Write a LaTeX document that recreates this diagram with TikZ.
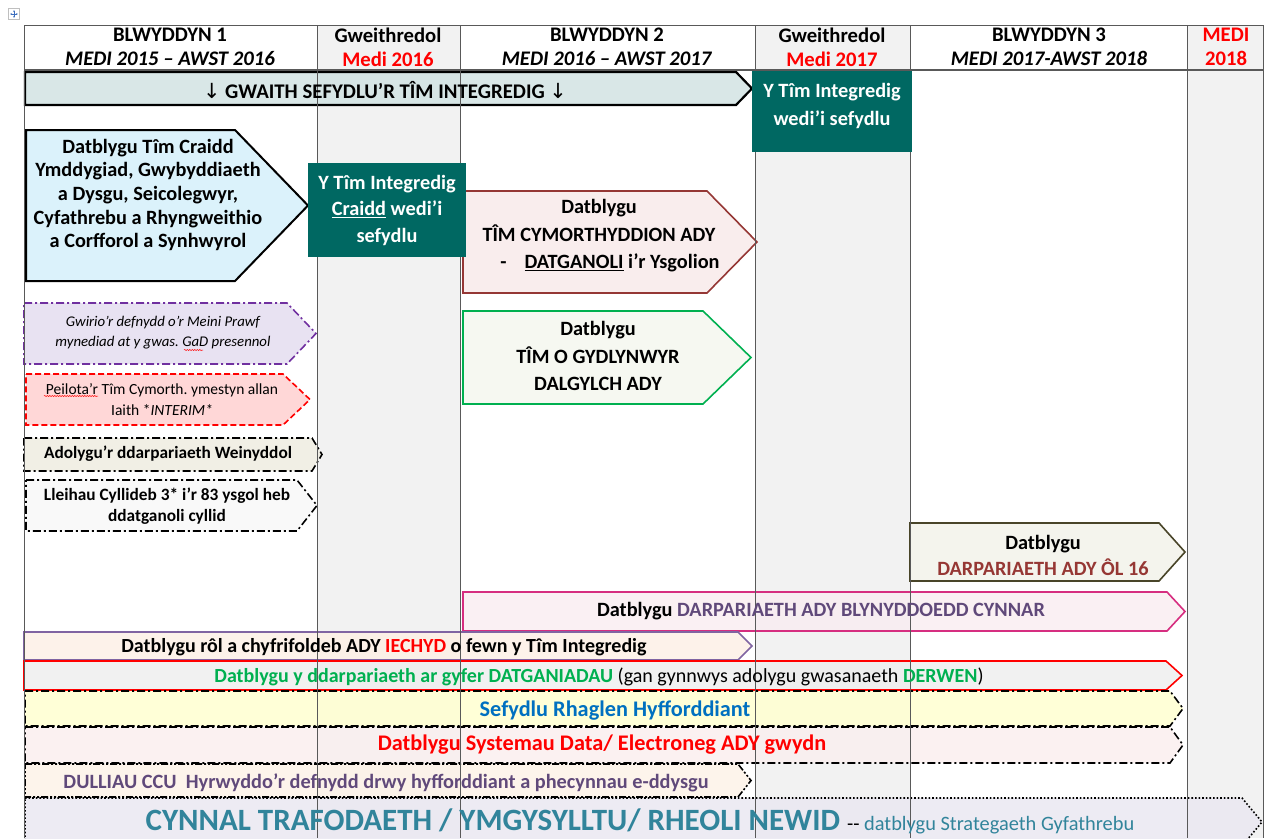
\documentclass[tikz,border=0pt]{standalone}
\usepackage{fontspec}
\setmainfont{Carlito}
\newfontfamily\arrowfont{DejaVu Sans}
\usetikzlibrary{arrows.meta,decorations.pathmorphing}

\definecolor{colgrey}{RGB}{242,242,242}
\definecolor{tealfill}{RGB}{0,104,98}
\definecolor{gwaithfill}{RGB}{210,227,227}
\definecolor{craiddfill}{RGB}{213,240,250}
\definecolor{cymborder}{RGB}{149,55,53}
\definecolor{cymfill}{RGB}{248,234,234}
\definecolor{gydborder}{RGB}{0,176,80}
\definecolor{gydfill}{RGB}{244,247,238}
\definecolor{gwiborder}{RGB}{112,48,160}
\definecolor{gwifill}{RGB}{228,221,240}
\definecolor{peilfill}{RGB}{255,208,208}
\definecolor{adofill}{RGB}{238,236,225}
\definecolor{lleifill}{RGB}{248,248,248}
\definecolor{olborder}{RGB}{73,69,41}
\definecolor{olfill}{RGB}{242,242,234}
\definecolor{oltext}{RGB}{150,55,52}
\definecolor{cynborder}{RGB}{214,46,128}
\definecolor{cynfill}{RGB}{249,237,241}
\definecolor{purptext}{RGB}{96,73,122}
\definecolor{iechborder}{RGB}{128,100,162}
\definecolor{iechfill}{RGB}{253,240,230}
\definecolor{datfill}{RGB}{238,238,238}
\definecolor{datgreen}{RGB}{0,176,80}
\definecolor{hyffill}{RGB}{255,255,208}
\definecolor{hyftext}{RGB}{0,112,192}
\definecolor{sysfill}{RGB}{250,239,239}
\definecolor{ccufill}{RGB}{253,242,232}
\definecolor{cynnalfill}{RGB}{234,232,241}
\definecolor{cynnaltext}{RGB}{49,132,155}
\definecolor{iconblue}{RGB}{60,110,190}

% box with a pointed right end: x1, y1, body end, tip, y2
\newcommand{\tagbox}[6][]{%
  \draw[#1] (#2,#3) -- (#4,#3) -- (#5,{(#3+#6)/2}) -- (#4,#6) -- (#2,#6) -- cycle;}
\newcommand{\down}{{\arrowfont\mdseries ↓}}

\tikzset{
  box/.style={line width=1.6pt, fill opacity=0.85},
  lnDashDot/.style={dash pattern=on 8pt off 3pt on 2pt off 3pt},
  lnDashDotDot/.style={dash pattern=on 7pt off 2pt on 2pt off 2pt on 2pt off 2pt},
  lnDash/.style={dash pattern=on 6pt off 3pt},
  lnDot/.style={dash pattern=on 1.6pt off 2pt},
  colline/.style={line width=1pt, draw=black!65},
  tealbox/.style={fill=tealfill},
  lbl/.style={align=center, inner sep=0pt, font=\fontsize{20.3}{#1}\selectfont\bfseries},
  lbl/.default=24,
  hdr/.style={align=center, inner sep=0pt, font=\fontsize{20.7}{24}\selectfont\bfseries},
  bar/.style={align=center, inner sep=0pt, font=\fontsize{#1}{24}\selectfont\bfseries},
  bar/.default=20.3,
  sml/.style={align=center, inner sep=0pt, font=\fontsize{15.5}{#1}\selectfont},
  sml/.default=20.5,
  smlit/.style={align=center, inner sep=0pt, font=\fontsize{14.8}{20}\selectfont\itshape},
  smlbf/.style={align=center, inner sep=0pt, font=\fontsize{17.3}{21}\selectfont\bfseries},
  squiggle/.style={red, line width=0.5pt, decorate,
    decoration={snake, amplitude=0.6pt, segment length=2.5pt}}
}

\begin{document}
\frenchspacing
\begin{tikzpicture}[x=1pt,y=-1pt]
  \useasboundingbox (0,0) rectangle (1268,838);
  \clip (0,0) rectangle (1268,838);

  \draw[gray!50, fill=white] (8.5,8.5) rectangle (19.5,19.5);
  \draw[iconblue, line width=0.6pt, {Stealth[length=2pt]}-{Stealth[length=2pt]}] (10,14) -- (18,14);
  \draw[iconblue, line width=0.6pt, {Stealth[length=2pt]}-{Stealth[length=2pt]}] (14,10) -- (14,18);

  \fill[colgrey] (317,25) rectangle (460,838);
  \fill[colgrey] (755,25) rectangle (910,838);
  \fill[colgrey] (1187,25) rectangle (1263,838);

  \tagbox[box, draw=black, fill=gwaithfill, line width=2.2pt]{25}{72}{736}{752}{105}
  \tagbox[box, draw=black, fill=craiddfill, line width=2pt]{26}{130}{235}{308}{281}
  \tagbox[box, draw=cymborder, fill=cymfill]{463}{191}{707}{757}{293}
  \tagbox[box, draw=gydborder, fill=gydfill]{463}{311}{703}{751}{404}
  \tagbox[box, lnDashDot, draw=gwiborder, fill=gwifill]{24}{303}{287}{316}{364}
  \tagbox[box, lnDash, draw=red, fill=peilfill]{26}{374}{283}{310}{425}
  \tagbox[box, lnDashDot, draw=black, fill=adofill]{24}{438}{312}{322}{471}
  \tagbox[box, lnDashDot, draw=black, fill=lleifill]{26}{480}{297}{317}{531}
  \tagbox[box, draw=olborder, fill=olfill]{910}{523}{1159}{1185}{581}
  \tagbox[box, draw=cynborder, fill=cynfill]{463}{592}{1167}{1185}{631}
  \tagbox[box, draw=iechborder, fill=iechfill]{24}{632}{738}{752}{660}
  \tagbox[box, draw=red, fill=datfill]{24}{661}{1166}{1182}{690}
  \tagbox[box, lnDashDot, draw=black, fill=hyffill]{25}{691}{1170}{1183}{726}
  \tagbox[box, lnDashDot, draw=black, fill=sysfill]{25}{727}{1170}{1183}{763}
  \tagbox[box, lnDashDotDot, draw=black, fill=ccufill]{25}{764}{738}{751}{797}
  \tagbox[box, lnDot, draw=black, fill=cynnalfill]{25}{798}{1242}{1262}{846}

  \draw[colline] (24,25) -- (1263,25);
  \draw[colline, line width=1.6pt] (24,70) -- (1263,70);
  \foreach \x in {24,317,460,755,910,1187,1263}
    \draw[colline] (\x,25) -- (\x,838);

  \fill[tealbox] (752,71) rectangle (912,152);
  \fill[tealbox] (308,163) rectangle (466,257);

  \node[hdr] (yr1) at (170,47) {BLWYDDYN 1\\\textit{MEDI 2015 – AWST 2016}};
  \node[hdr] (gw16) at (388,47) {Gweithredol\\\textcolor{red}{Medi 2016}};
  \node[hdr] (yr2) at (607,47) {BLWYDDYN 2\\\textit{MEDI 2016 – AWST 2017}};
  \node[hdr] (gw17) at (832,47) {Gweithredol\\\textcolor{red}{Medi 2017}};
  \node[hdr] (yr3) at (1049,47) {BLWYDDYN 3\\\textit{MEDI 2017-AWST 2018}};
  \node[hdr, text=red] (medi18) at (1226,47) {MEDI\\2018};

  \node[bar=20.8] (gwaith) at (385,90) {\down\ GWAITH SEFYDLU’R TÎM INTEGREDIG \down};
  \node[lbl=28, text=white] (timok) at (832,106) {Y Tîm Integredig\\wedi’i sefydlu};
  \node[lbl=23.7] (craidd) at (148,195) {Datblygu Tîm Craidd\\Ymddygiad, Gwybyddiaeth\\a Dysgu, Seicolegwyr,\\Cyfathrebu a Rhyngweithio\\a Corfforol a Synhwyrol};
  \node[lbl=26.5, text=white] (craiddok) at (387,210) {Y Tîm Integredig\\\underline{Craidd} wedi’i\\sefydlu};
  \node[lbl=27.5] (cymorth) at (599,236) {Datblygu\\TÎM CYMORTHYDDION ADY\\\hspace*{22pt}-\hspace{18pt}\underline{DATGANOLI} i’r Ysgolion};
  \node[lbl=27.5] (gydlyn) at (598,356) {Datblygu\\TÎM O GYDLYNWYR\\DALGYLCH ADY};

  \node[smlit] (gwirio) at (163,333) {Gwirio’r defnydd o’r Meini Prawf\\mynediad at y gwas. GaD presennol};
  \node[sml=21] (peilota) at (162,400) {Peilota’r Tîm Cymorth. ymestyn allan\\Iaith *\textit{INTERIM*}};
  \node[smlbf] (adolygu) at (168,454) {Adolygu’r ddarpariaeth Weinyddol};
  \node[smlbf] (lleihau) at (167,506) {Lleihau Cyllideb 3* i’r 83 ysgol heb\\ddatganoli cyllid};
  \draw[squiggle] (184,350) -- (203,350);
  \draw[squiggle] (44,396) -- (98,396);

  \node[lbl=26] (ol16) at (1043,555) {Datblygu\\\textcolor{oltext}{DARPARIAETH ADY ÔL 16}};
  \node[bar] (cynnar) at (821,611) {Datblygu \textcolor{purptext}{DARPARIAETH ADY BLYNYDDOEDD CYNNAR}};
  \node[bar=20] (iechyd) at (384,647) {Datblygu rôl a chyfrifoldeb ADY \textcolor{red}{IECHYD} o fewn y Tîm Integredig};
  \node[bar=20, font=\fontsize{20}{24}\selectfont\mdseries] (datgan) at (599,677) {\textbf{\textcolor{datgreen}{Datblygu y ddarpariaeth ar gyfer DATGANIADAU}} (gan gynnwys adolygu gwasanaeth \textbf{\textcolor{datgreen}{DERWEN}})};
  \node[bar=22.3, text=hyftext] (hyff) at (615,711) {Sefydlu Rhaglen Hyfforddiant};
  \node[bar=22.3, text=red] (systemau) at (602,745) {Datblygu Systemau Data/ Electroneg ADY gwydn};
  \node[bar, text=purptext] (ccu) at (386,783) {DULLIAU CCU\ \ Hyrwyddo’r defnydd drwy hyfforddiant a phecynnau e-ddysgu};
  \node[bar=31, text=cynnaltext] (cynnal) at (640,821) {CYNNAL TRAFODAETH / YMGYSYLLTU/ RHEOLI NEWID \mdseries\fontsize{20.4}{22}\selectfont\textcolor{black}{{-}{-}} datblygu Strategaeth Gyfathrebu};
\end{tikzpicture}
\end{document}
